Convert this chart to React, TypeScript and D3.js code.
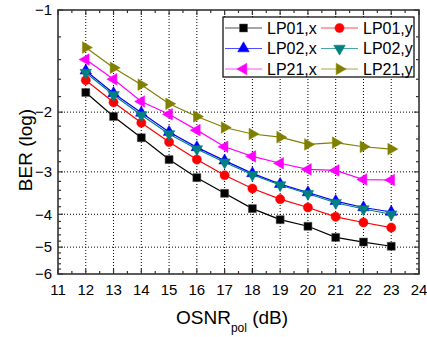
import React from "react";
import * as d3 from "d3";

// OSNR values (dB)
const osnr = [12, 13, 14, 15, 16, 17, 18, 19, 20, 21, 22, 23];

// log10(BER) per mode / polarisation
const lp01x = [-1.75, -2.06, -2.38, -2.76, -3.12, -3.47, -3.85, -4.15, -4.34, -4.68, -4.83, -4.97];
const lp01y = [-1.61, -1.87, -2.15, -2.45, -2.76, -3.07, -3.36, -3.61, -3.82, -4.07, -4.23, -4.38];
const lp02x = [-1.51, -1.76, -2.01, -2.29, -2.54, -2.78, -3.03, -3.26, -3.45, -3.66, -3.82, -3.94];
const lp02y = [-1.53, -1.78, -2.04, -2.32, -2.57, -2.81, -3.06, -3.28, -3.48, -3.70, -3.86, -4.00];
const lp21x = [-1.4, -1.6, -1.86, -2.03, -2.26, -2.53, -2.7, -2.83, -2.95, -2.97, -3.16, -3.17];
const lp21y = [-1.29, -1.48, -1.66, -1.89, -2.06, -2.22, -2.32, -2.37, -2.49, -2.46, -2.53, -2.57];

const xTicks = [11, 12, 13, 14, 15, 16, 17, 18, 19, 20, 21, 22, 23, 24];
const yTicks = [-1, -2, -3, -4, -5, -6];

const series = [
  { name: "LP01,x", values: lp01x, color: "#000000", symbol: d3.symbolSquare, rot: 0, size: 64 },
  { name: "LP01,y", values: lp01y, color: "#ff0000", symbol: d3.symbolCircle, rot: 0, size: 66 },
  { name: "LP02,x", values: lp02x, color: "#0000ff", symbol: d3.symbolTriangle, rot: 0, size: 58 },
  { name: "LP02,y", values: lp02y, color: "#008080", symbol: d3.symbolTriangle, rot: 180, size: 58 },
  { name: "LP21,x", values: lp21x, color: "#ff00ff", symbol: d3.symbolTriangle, rot: -90, size: 58 },
  { name: "LP21,y", values: lp21y, color: "#808000", symbol: d3.symbolTriangle, rot: 90, size: 58 },
];

const width = 427;
const height = 337;
const left = 58;
const right = 419;
const top = 10;
const bottom = 274;
const font = "'Liberation Sans', Arial, sans-serif";
const axisColor = "#333";

export default function App() {
  const x = d3.scaleLinear().domain([11, 24]).range([left, right]);
  // y axis: log scale of |log10(BER)|
  const yl = d3.scaleLog().domain([1, 6]).range([top, bottom]);
  const y = (v: number) => yl(Math.abs(v));

  const line = d3
    .line<number>()
    .x((_, i) => x(osnr[i]))
    .y((d) => y(d));

  const xMinor = d3.range(11.5, 24, 1);
  const yMinor = d3.range(1.2, 6, 0.2).filter((v) => Math.abs(v - Math.round(v)) > 0.01);

  const legendRows = [
    [series[0], series[1]],
    [series[2], series[3]],
    [series[4], series[5]],
  ];

  const marker = (s: any, cx: number, cy: number, key: any) => (
    <path
      key={key}
      d={d3.symbol().type(s.symbol).size(s.size)() as string}
      transform={`translate(${cx},${cy}) rotate(${s.rot})`}
      fill={s.color}
      stroke={s.color === "#000000" ? "#555" : s.color}
      strokeWidth={0.5}
    />
  );

  return (
    <svg
      width={width}
      height={height}
      style={{ position: "absolute", top: 0, left: 0, background: "#fff" }}
      fontFamily={font}
    >
      {/* grid */}
      <g stroke="#000" strokeWidth={1} strokeDasharray="1,2">
        {xTicks.slice(1, -1).map((t) => (
          <line key={"gx" + t} x1={x(t)} x2={x(t)} y1={top} y2={bottom} />
        ))}
        {yTicks.slice(1, -1).map((t) => (
          <line key={"gy" + t} x1={left} x2={right} y1={y(t)} y2={y(t)} />
        ))}
      </g>

      {/* data */}
      {series.map((s) => (
        <g key={s.name}>
          <path d={line(s.values) as string} fill="none" stroke={s.color} strokeWidth={1.2} />
          {s.values.map((v, i) => marker(s, x(osnr[i]), y(v), i))}
        </g>
      ))}

      {/* frame + ticks */}
      <rect x={left} y={top} width={right - left} height={bottom - top} fill="none" stroke={axisColor} strokeWidth={1.6} />
      <g stroke={axisColor} strokeWidth={1.2}>
        {xTicks.map((t) => (
          <g key={"tx" + t}>
            <line x1={x(t)} x2={x(t)} y1={bottom} y2={bottom - 5} />
            <line x1={x(t)} x2={x(t)} y1={top} y2={top + 5} />
          </g>
        ))}
        {xMinor.map((t) => (
          <g key={"mx" + t}>
            <line x1={x(t)} x2={x(t)} y1={bottom} y2={bottom - 3} />
            <line x1={x(t)} x2={x(t)} y1={top} y2={top + 3} />
          </g>
        ))}
        {yTicks.map((t) => (
          <g key={"ty" + t}>
            <line x1={left} x2={left + 5} y1={y(t)} y2={y(t)} />
            <line x1={right} x2={right - 5} y1={y(t)} y2={y(t)} />
          </g>
        ))}
        {yMinor.map((t) => (
          <g key={"my" + t}>
            <line x1={left} x2={left + 3} y1={yl(t)} y2={yl(t)} />
            <line x1={right} x2={right - 3} y1={yl(t)} y2={yl(t)} />
          </g>
        ))}
      </g>

      {/* tick labels */}
      <g fontSize={15} fill="#000">
        {xTicks.map((t) => (
          <text key={"lx" + t} x={x(t)} y={bottom + 21} textAnchor="middle">
            {t}
          </text>
        ))}
        {yTicks.map((t) => (
          <text key={"ly" + t} x={left - 6} y={y(t)} dy="0.35em" textAnchor="end">
            {"\u2212" + Math.abs(t)}
          </text>
        ))}
      </g>

      {/* axis titles */}
      <text
        transform={`translate(${32},${(top + bottom) / 2 + 8}) rotate(-90)`}
        textAnchor="middle"
        fontSize={19}
      >
        BER (log)
      </text>
      <text x={176} y={324} fontSize={19}>
        OSNR
        <tspan fontSize={12} dy={8}>pol</tspan>
        <tspan dy={-8}> (dB)</tspan>
      </text>

      {/* legend */}
      <g>
        <rect x={223} y={17} width={191} height={60} fill="#fff" stroke="#000" strokeWidth={1.2} />
        {legendRows.map((row, r) =>
          row.map((s, c) => {
            const lx = 225 + c * 96;
            const ly = 28 + r * 20.5;
            return (
              <g key={s.name}>
                <line x1={lx} x2={lx + 37} y1={ly} y2={ly} stroke={s.color} strokeWidth={1.2} opacity={0.7} />
                {marker(s, lx + 18.5, ly, "m")}
                <text x={lx + 42} y={ly} dy="0.36em" fontSize={16}>
                  {s.name}
                </text>
              </g>
            );
          })
        )}
      </g>
    </svg>
  );
}
